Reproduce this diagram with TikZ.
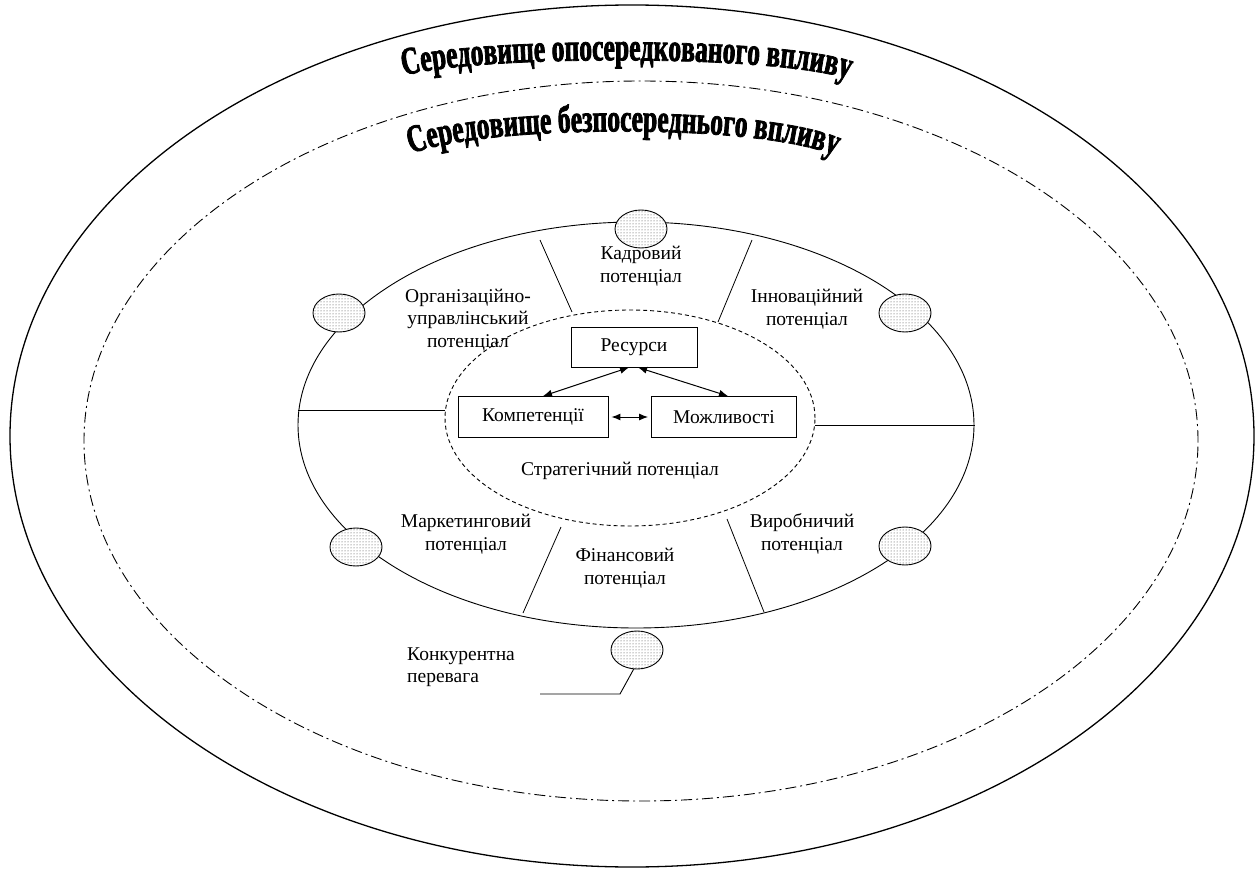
\documentclass[tikz,border=0pt]{standalone}
\usepackage{fontspec}
\setmainfont{LiberationSerif}[Extension=.ttf, UprightFont=*-Regular, BoldFont=*-Bold, ItalicFont=*-Italic, BoldItalicFont=*-BoldItalic]
\newfontfamily\ttlfam{LiberationSerif-Bold}[Extension=.ttf, FakeStretch=0.655, FakeBold=2]
\usetikzlibrary{shapes.geometric,patterns,decorations.text,arrows.meta}
\newcommand\ttlfont{\ttlfam\fontsize{39}{40}\selectfont}
\begin{document}
\begin{tikzpicture}[x=1pt,y=-1pt,
  lbl/.style={font=\fontsize{19.5}{22.5}\selectfont, align=center, inner sep=0pt},
  bigell/.style={ellipse, draw, inner sep=0pt},
  boxn/.style={draw, line width=0.9pt, inner sep=0pt, font=\fontsize{19.5}{22.5}\selectfont},
  oval/.style={ellipse, draw, line width=0.9pt, minimum width=52pt, minimum height=38pt, inner sep=0pt, fill=white, postaction={pattern=dots, pattern color=black!75}},
  dashdot/.style={dash pattern=on 11pt off 4pt on 2pt off 4pt, line width=0.9pt},
  sep/.style={line width=0.8pt},
  arr/.style={{Latex[length=9pt,width=7pt]}-{Latex[length=9pt,width=7pt]}, line width=1pt}
]
\useasboundingbox (0,0) rectangle (1259,872);
\fill[white] (0,0) rectangle (1259,872);

% environment ellipses
\node[bigell, line width=1.3pt, minimum width=1244pt, minimum height=862pt] (outer) at (632,436) {};
\node[bigell, dashdot, minimum width=1114pt, minimum height=720pt] (env) at (641,441) {};
\node[bigell, line width=0.9pt, minimum width=676pt, minimum height=406pt] (mid) at (636,425) {};
\node[bigell, line width=0.9pt, dash pattern=on 4pt off 3pt, minimum width=370pt, minimum height=216pt] (strat) at (630,418) {};

% curved titles
\path[decorate, decoration={text along path, text align=center,
  text={|\ttlfont|Середовище опосередкованого впливу}}]
  (393,80) .. controls (437,54) and (809,52) .. (859,84);
\path[decorate, decoration={text along path, text align=center,
  text={|\ttlfont|Середовище безпосереднього впливу}}]
  (400,160) .. controls (448,123) and (790,120) .. (846,162);

% separator lines
\draw[sep] (540,240) -- (572,312);
\draw[sep] (752,240) -- (718,322);
\draw[sep] (298,410) -- (445,410);
\draw[sep] (815,425) -- (975,425);
\draw[sep] (523,613) -- (561,527);
\draw[sep] (764,612) -- (727,519);

% small ovals
\node[oval] (o1) at (641,229) {};
\node[oval] (o2) at (339,313) {};
\node[oval] (o3) at (905,313) {};
\node[oval] (o4) at (356,547) {};
\node[oval] (o5) at (905,546) {};
\node[oval] (o6) at (637,650) {};

% labels
\node[lbl] (kadr) at (641,266) {Кадровий\\потенціал};
\node[lbl] (org) at (468,320) {Організаційно-\\управлінський\\потенціал};
\node[lbl] (inn) at (807,309) {Інноваційний\\потенціал};
\node[lbl] (mark) at (466,534) {Маркетинговий\\потенціал};
\node[lbl] (vyr) at (802,534) {Виробничий\\потенціал};
\node[lbl] (fin) at (625,568) {Фінансовий\\потенціал};
\node[lbl] (strl) at (620,471) {Стратегічний потенціал};
\node[lbl, align=left, anchor=west] (konk) at (407,667) {Конкурентна\\перевага};

% boxes
\node[boxn, minimum width=126pt, minimum height=40pt] (res) at (634,347) {Ресурси};
\node[boxn, minimum width=150pt, minimum height=41pt] (komp) at (533,417) {Компетенції};
\node[boxn, minimum width=145pt, minimum height=41pt] (mozh) at (724,417) {Можливості};

% arrows
\draw[arr] ([xshift=-5pt]res.south) -- ([xshift=10pt]komp.north);
\draw[arr] ([xshift=4pt]res.south) -- ([xshift=4pt]mozh.north);
\draw[arr, shorten <=3pt, shorten >=3pt] (komp.east) -- (mozh.west);

% leader line
\coordinate (k1) at (620,694);
\coordinate (k2) at (540,694);
\draw[line width=0.9pt] (o6.-100) -- (k1) -- (k2);
\end{tikzpicture}
\end{document}
